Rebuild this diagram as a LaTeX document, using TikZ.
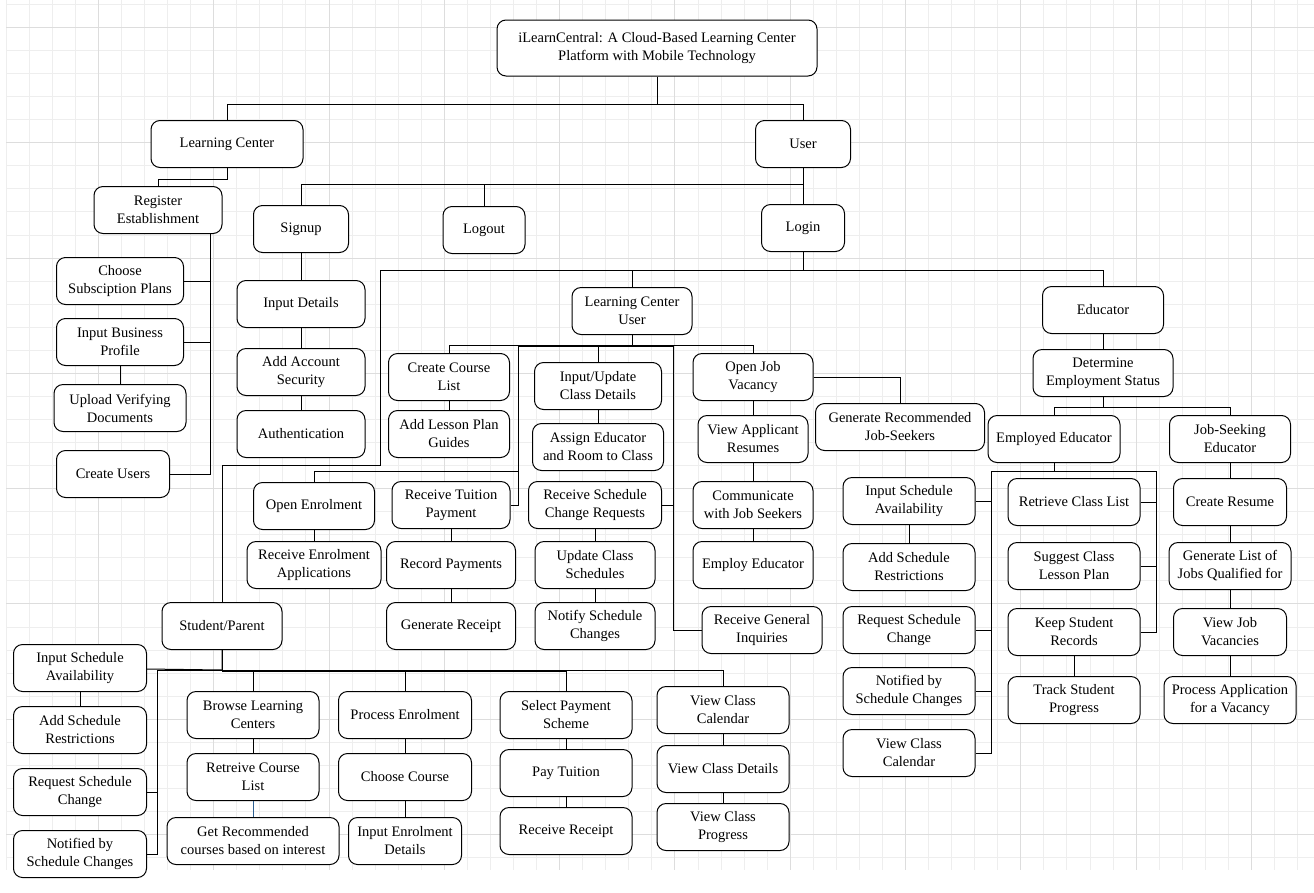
\documentclass[tikz,border=0pt]{standalone}
\usepackage{fontspec}
\setmainfont{Liberation Serif}
\usepackage{xcolor}
\usepackage{tikz}
\definecolor{linkblue}{RGB}{45,95,145}
\tikzset{
  box/.style={draw=black, fill=white, line width=1pt, rounded corners=9pt,
    minimum height=47pt, inner sep=2pt, align=center,
    font=\fontsize{14.5}{18}\selectfont},
  link/.style={line width=1pt, black},
  gridminor/.style={line width=0.8pt, gray!13},
  gridmajor/.style={line width=0.8pt, gray!27}
}

\begin{document}
\begin{tikzpicture}[x=1pt, y=-1pt]
\useasboundingbox (0,0) rectangle (1314,892);

% Background grid
\foreach \i in {0,...,56}
  \draw[gridminor] ({6.1+23.06*\i},0) -- ({6.1+23.06*\i},870);
\foreach \j in {0,...,37}
  \draw[gridminor] (6.1,{4.3+23.06*\j}) -- (1314,{4.3+23.06*\j});
\foreach \i in {4,9,...,54}
  \draw[gridmajor] ({6.1+23.06*\i},0) -- ({6.1+23.06*\i},870);
\foreach \j in {1,6,...,36}
  \draw[gridmajor] (6.1,{4.3+23.06*\j}) -- (1314,{4.3+23.06*\j});

% Top levels
\node[box, minimum width=320pt, minimum height=56pt] (title) at (657,48) {iLearnCentral: A Cloud-Based Learning Center\\Platform with Mobile Technology};
\node[box, minimum width=152pt] (lc) at (227,144) {Learning Center};
\node[box, minimum width=95pt] (user) at (803,144) {User};

% Learning Center side
\node[box, minimum width=128pt] (reg) at (158,210) {Register\\Establishment};
\node[box, minimum width=127pt] (csp) at (120,281) {Choose\\Subsciption Plans};
\node[box, minimum width=127pt] (ibp) at (120,342) {Input Business\\Profile};
\node[box, minimum width=132pt] (uvd) at (120,408) {Upload Verifying\\Documents};
\node[box, minimum width=113pt] (cu) at (113,474) {Create Users};

% User side
\node[box, minimum width=95pt] (signup) at (301,229) {Signup};
\node[box, minimum width=82pt] (logout) at (484,230) {Logout};
\node[box, minimum width=83pt] (login) at (803,228) {Login};
\node[box, minimum width=128pt] (indet) at (301,304) {Input Details};
\node[box, minimum width=128pt] (acsec) at (301,372) {Add Account\\Security};
\node[box, minimum width=128pt] (auth) at (301,434) {Authentication};

% Learning Center User
\node[box, minimum width=120pt] (lcu) at (632,311) {Learning Center\\User};
\node[box, minimum width=121pt] (ccl) at (449,377) {Create Course\\List};
\node[box, minimum width=121pt] (alpg) at (449,434) {Add Lesson Plan\\Guides};
\node[box, minimum width=127pt] (iucd) at (598,386) {Input/Update\\Class Details};
\node[box, minimum width=131pt] (aerc) at (598,447) {Assign Educator\\and Room to Class};
\node[box, minimum width=133pt] (rscr) at (595,505) {Receive Schedule\\Change Requests};
\node[box, minimum width=120pt] (ucs) at (595,565) {Update Class\\Schedules};
\node[box, minimum width=120pt] (nsc) at (595,626) {Notify Schedule\\Changes};
\node[box, minimum width=120pt] (rgi) at (762,630) {Receive General\\Inquiries};
\node[box, minimum width=118pt] (rtp) at (451,505) {Receive Tuition\\Payment};
\node[box, minimum width=129pt] (rpay) at (451,565) {Record Payments};
\node[box, minimum width=129pt] (grec) at (451,626) {Generate Receipt};
\node[box, minimum width=121pt] (oe) at (314,506) {Open Enrolment};
\node[box, minimum width=134pt] (rea) at (314,565) {Receive Enrolment\\Applications};
\node[box, minimum width=120pt] (ojv) at (753,377) {Open Job\\Vacancy};
\node[box, minimum width=110pt] (var) at (753,439) {View Applicant\\Resumes};
\node[box, minimum width=120pt] (cjs) at (753,505) {Communicate\\with Job Seekers};
\node[box, minimum width=120pt] (empl) at (753,565) {Employ Educator};
\node[box, minimum width=169pt] (grjs) at (900,427) {Generate Recommended\\Job-Seekers};

% Student/Parent
\node[box, minimum width=120pt] (sp) at (222,626) {Student/Parent};
\node[box, minimum width=133pt] (sisa) at (80,668) {Input Schedule\\Availability};
\node[box, minimum width=133pt] (sasr) at (80,730) {Add Schedule\\Restrictions};
\node[box, minimum width=133pt] (srsc) at (80,792) {Request Schedule\\Change};
\node[box, minimum width=133pt] (snsc) at (80,854) {Notified by\\Schedule Changes};
\node[box, minimum width=132pt] (blc) at (253,715) {Browse Learning\\Centers};
\node[box, minimum width=132pt] (rcl) at (253,777) {Retreive Course\\List};
\node[box, minimum width=172pt] (grc) at (253,841) {Get Recommended\\courses based on interest};
\node[box, minimum width=133pt] (pe) at (405,715) {Process Enrolment};
\node[box, minimum width=133pt] (cc) at (405,777) {Choose Course};
\node[box, minimum width=113pt] (ied) at (405,841) {Input Enrolment\\Details};
\node[box, minimum width=132pt] (sps) at (566,715) {Select Payment\\Scheme};
\node[box, minimum width=132pt] (pt) at (566,773) {Pay Tuition};
\node[box, minimum width=132pt] (rr) at (566,831) {Receive Receipt};
\node[box, minimum width=132pt] (vcc) at (723,710) {View Class\\Calendar};
\node[box, minimum width=132pt] (vcd) at (723,769) {View Class Details};
\node[box, minimum width=132pt] (vcp) at (723,827) {View Class\\Progress};

% Educator
\node[box, minimum width=121pt] (edu) at (1103,310) {Educator};
\node[box, minimum width=140pt] (des) at (1103,373) {Determine\\Employment Status};
\node[box, minimum width=132pt] (emp) at (1054,439) {Employed Educator};
\node[box, minimum width=121pt] (jse) at (1230,439) {Job-Seeking\\Educator};
\node[box, minimum width=132pt] (eisa) at (909,501) {Input Schedule\\Availability};
\node[box, minimum width=132pt] (easr) at (909,567) {Add Schedule\\Restrictions};
\node[box, minimum width=132pt] (ersc) at (909,630) {Request Schedule\\Change};
\node[box, minimum width=132pt] (ensc) at (909,691) {Notified by\\Schedule Changes};
\node[box, minimum width=132pt] (evcc) at (909,753) {View Class\\Calendar};
\node[box, minimum width=132pt] (rtcl) at (1074,502) {Retrieve Class List};
\node[box, minimum width=132pt] (scl) at (1074,566) {Suggest Class\\Lesson Plan};
\node[box, minimum width=132pt] (ksr) at (1074,632) {Keep Student\\Records};
\node[box, minimum width=132pt] (tsp) at (1074,700) {Track Student\\Progress};
\node[box, minimum width=113pt] (cres) at (1230,502) {Create Resume};
\node[box, minimum width=122pt] (glj) at (1230,566) {Generate List of\\Jobs Qualified for};
\node[box, minimum width=113pt] (vjv) at (1230,632) {View Job\\Vacancies};
\node[box, minimum width=132pt] (pav) at (1230,700) {Process Application\\for a Vacancy};

% Main branches
\draw[link] (title.south) -- ++(0,28) -| (lc.north);
\draw[link] (title.south) -- ++(0,28) -| (user.north);

% Learning Center links
\coordinate (regbus) at (210,0);
\draw[link] (lc.south) -- ++(0,11) -| (reg.north);
\foreach \n in {csp, ibp, cu}
  \draw[link] (reg.south -| regbus) |- (\n.east);
\draw[link] (ibp) -- (uvd);

% User links
\draw[link] (user.south) -- ++(0,16) -| (signup.north);
\draw[link] (user.south) -- ++(0,16) -| (logout.north);
\draw[link] (user) -- (login);
\draw[link] (signup) -- (indet) -- (acsec) -- (auth);

% Login links
\draw[link] (login.south) -- ++(0,18) -| (lcu.north);
\draw[link] (login.south) -- ++(0,18) -| (edu.north);
\draw[link] (login.south) -- ++(0,18) -| (380,465) -| (sp.north);

% Learning Center User links
\foreach \n in {ccl, iucd, ojv}
  \draw[link] (lcu.south) -- ++(0,10) -| (\n.north);
\draw[link] (lcu.south) -- ++(0,11) -| (518,471) -| (oe.north);
\draw[link] (lcu.south) -- ++(0,11) -| (518,505) -- (rtp.east);
\draw[link] (lcu.south) -- ++(0,11) -| (673,505) -- (rscr.east);
\draw[link] (lcu.south) -- ++(0,11) -| (673,630) -- (rgi.west);
\draw[link] (ccl) -- (alpg);
\draw[link] (iucd) -- (aerc);
\draw[link] (rscr) -- (ucs) -- (nsc);
\draw[link] (rtp) -- (rpay) -- (grec);
\draw[link] (oe) -- (rea);
\draw[link] (ojv) -- (var) -- (cjs) -- (empl);
\draw[link] (ojv.east) -| (grjs.north);

% Student/Parent links
\draw[link] (sp.south) -- ++(0,20) -- (sisa.east |- 0,669);
\foreach \n in {srsc, snsc}
  \draw[link] (sp.south) -- ++(0,20) -| ([xshift=10pt]\n.east) -- (\n.east);
\draw[link] (sisa) -- (sasr);
\foreach \n in {blc, pe, sps}
  \draw[link] (sp.south) -- ++(0,21) -| (\n.north);
\draw[link] (sp.south) -- ++(0,20) -| (vcc.north);
\draw[link] (blc) -- (rcl);
\draw[link, linkblue] (rcl) -- (grc);
\draw[link] (pe) -- (cc) -- (ied);
\draw[link] (sps) -- (pt) -- (rr);
\draw[link] (vcc) -- (vcd) -- (vcp);

% Educator links
\coordinate (lbus) at (991,471);
\coordinate (rbus) at (1156,471);
\draw[link] (edu) -- (des);
\draw[link] (des.south) -- ++(0,10) -| (emp.north);
\draw[link] (des.south) -- ++(0,10) -| (jse.north);
\draw[link] (emp.south) |- (lbus);
\draw[link] (emp.south) |- (rbus);
\foreach \n in {eisa, ersc, ensc, evcc}
  \draw[link] (lbus) |- (\n.east);
\foreach \n in {rtcl, scl, ksr}
  \draw[link] (rbus) |- (\n.east);
\draw[link] (eisa) -- (easr);
\draw[link] (ksr) -- (tsp);
\draw[link] (jse) -- (cres) -- (glj) -- (vjv) -- (pav);
\end{tikzpicture}
\end{document}
